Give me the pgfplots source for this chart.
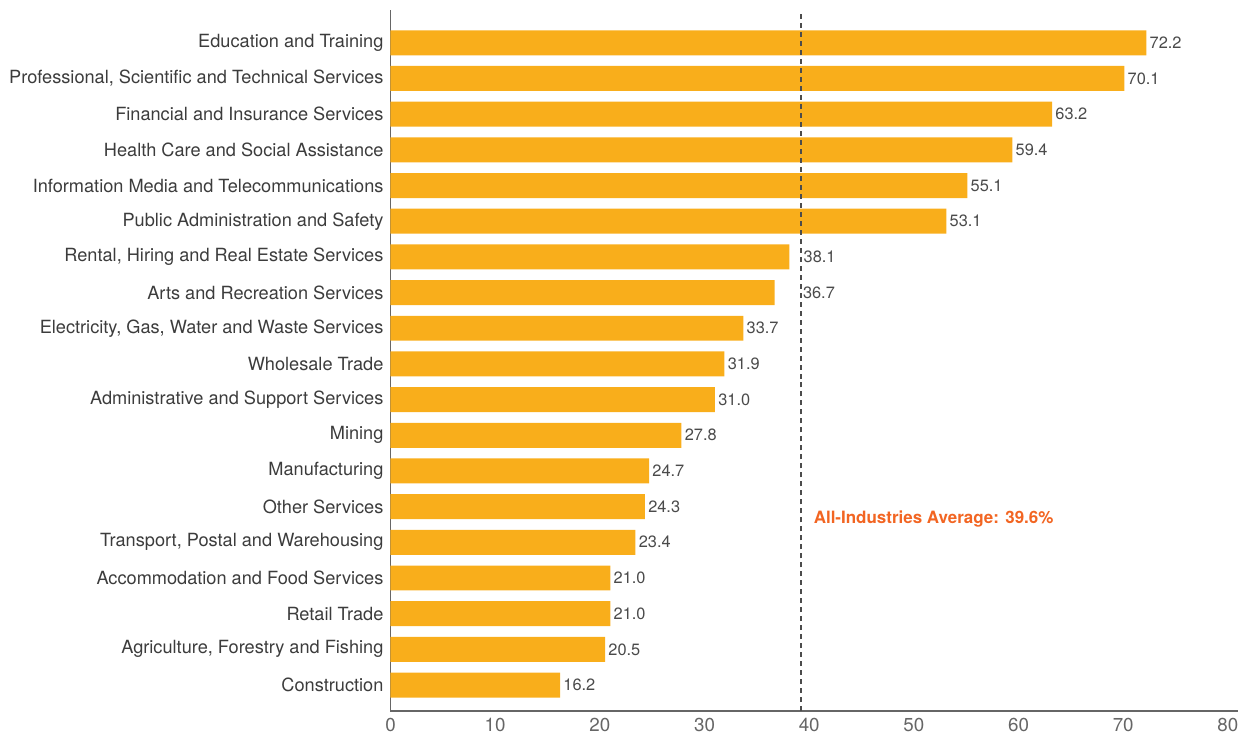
\documentclass[border=0pt]{standalone}
\usepackage{fontspec}
\setmainfont{TeX Gyre Heros}
\usepackage{pgfplots}
\usepackage{pgfplotstable}
\pgfplotsset{compat=1.18}
\definecolor{barc}{HTML}{F9AE1B}
\definecolor{avg}{HTML}{F26522}
\definecolor{axisgray}{HTML}{666666}
\definecolor{txt}{HTML}{3C3C3C}
\definecolor{vtxt}{HTML}{4A4A4A}
\pgfplotstableread{
val idx shift
16.2 0 0
20.5 1 0
21.0 2 0
21.0 3 0
23.4 4 0
24.3 5 0
24.7 6 0
27.8 7 0
31.0 8 0
31.9 9 0
33.7 10 0
36.7 11 12.5
38.1 12 5.5
53.1 13 0
55.1 14 0
59.4 15 0
63.2 16 0
70.1 17 0
72.2 18 0
}\datatable
\begin{document}
\begin{tikzpicture}
\begin{axis}[
  scale only axis, width=424.5pt, height=351pt,
  xmin=0, xmax=81.0, ymin=-0.73, ymax=18.92,
  axis x line=bottom, axis y line=left,
  axis line style={axisgray, line width=0.75pt, -},
  xtick={0,10,...,80}, ytick={0,...,18},
  yticklabels={Construction,{Agriculture, Forestry and Fishing},Retail Trade,Accommodation and Food Services,{Transport, Postal and Warehousing},Other Services,Manufacturing,Mining,Administrative and Support Services,Wholesale Trade,{Electricity, Gas, Water and Waste Services},Arts and Recreation Services,{Rental, Hiring and Real Estate Services},Public Administration and Safety,Information Media and Telecommunications,Health Care and Social Assistance,Financial and Insurance Services,{Professional, Scientific and Technical Services},Education and Training},
  major tick length=0pt,
  /pgf/number format/assume math mode=true,
  xticklabel style={font=\fontsize{9.4}{10}\selectfont, text=axisgray},
  yticklabel style={font=\fontsize{9.1}{10}\selectfont, text=txt},
  xbar, bar width=0.7,
  clip=false,
]
\addplot[fill=barc, draw=none,
  point meta=x,
  visualization depends on={\thisrow{shift} \as \myshift},
  nodes near coords,
  nodes near coords style={inner sep=1.5pt, xshift=\myshift pt, font=\fontsize{8.2}{10}\selectfont, text=vtxt, /pgf/number format/fixed, /pgf/number format/fixed zerofill, /pgf/number format/precision=1}
] table[x=val, y=idx] {\datatable};
\draw[black!70, line width=1pt, dash pattern=on 2.5pt off 2pt] (axis cs:39.2,-0.73) -- (axis cs:39.2,18.92);
\node[anchor=west, inner sep=0pt, font=\bfseries\fontsize{8.5}{10}\selectfont, text=avg] at (axis cs:40.4,4.65) {All-Industries Average: 39.6\%};
\path (rel axis cs:0,0) ++(-195.5pt,-12pt) (rel axis cs:1,1) ++(2.5pt,5pt);
\end{axis}
\end{tikzpicture}
\end{document}
